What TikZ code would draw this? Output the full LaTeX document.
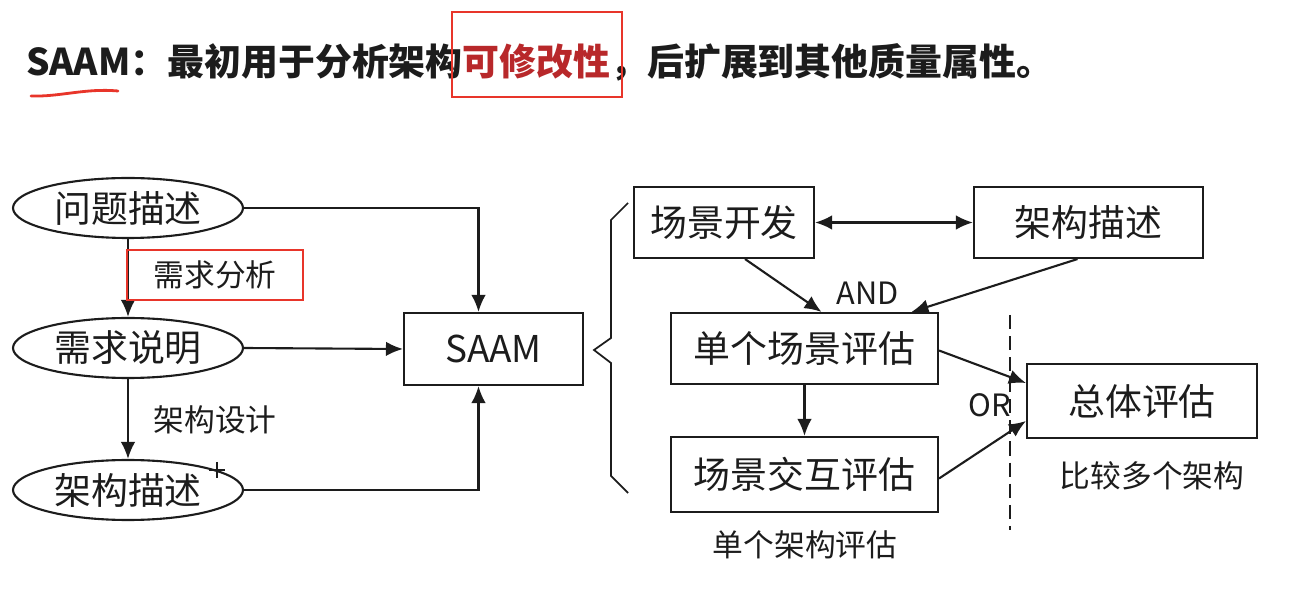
\documentclass[tikz,border=0pt]{standalone}
\usepackage{fontspec}
\setmainfont{Noto Sans CJK SC}
\usetikzlibrary{arrows.meta,shapes.geometric,calc}
\definecolor{ink}{HTML}{1C1C1C}
\definecolor{markred}{HTML}{E8352A}
\definecolor{keyred}{HTML}{B8282A}
\begin{document}
\begin{tikzpicture}[x=0.02cm,y=-0.02cm,
  line width=1.2pt, draw=ink, text=ink,
  big/.style={font=\fontsize{21}{24}\selectfont},
  small/.style={font=\fontsize{17.5}{20}\selectfont},
  ell/.style={draw, ellipse, inner sep=0pt, minimum width=4.6cm, minimum height=1.2cm, big},
  box/.style={draw, rectangle, inner sep=0pt, big},
  arr/.style={-{Latex[length=3.4mm,width=2.9mm]}},
  darr/.style={{Latex[length=3.4mm,width=2.9mm]}-{Latex[length=3.4mm,width=2.9mm]}}]
\useasboundingbox (0,0) rectangle (1300,590);

% heading
\node[anchor=west, inner sep=0pt, font=\fontsize{21}{24}\selectfont\bfseries] (title) at (25,62)
  {SAAM：最初用于分析架构\textcolor{keyred}{可修改性}，后扩展到其他质量属性。};
\node[draw=markred, line width=1.2pt, minimum width=3.4cm, minimum height=1.7cm, inner sep=0pt] (hl) at (537,54.5) {};
\draw[markred, line width=1.6pt, line cap=round] (31,96) .. controls (60,97) and (85,88) .. (118,91);

% left flow
\node[ell] (q) at (128,208) {问题描述};
\node[ell] (r) at (128,348) {需求说明};
\node[ell] (a) at (128,490) {架构描述};
\node[box, minimum width=3.58cm, minimum height=1.44cm] (saam) at (493.5,349) {SAAM};

\draw[arr] (q.south) -- (r.north);
\draw[arr] (r.south) -- (a.north);
\draw[arr] (q.east) -| ($(saam.north)+(-15,0)$);
\draw[arr] (r.east) -- (saam.west);
\draw[arr] (a.east) -| ($(saam.south)+(-15,0)$);

\node[draw=markred, line width=1.2pt, minimum width=3.52cm, minimum height=1cm, inner sep=0pt, small] (req) at (215,275) {需求分析};
\node[small] (des) at (215,420) {架构设计};

% pointer cross
\coordinate (cur) at (217,470);
\draw[line width=0.7pt] ($(cur)+(-8,0)$) -- ($(cur)+(8,0)$) ($(cur)+(0,-8)$) -- ($(cur)+(0,8)$);

% brace
\draw[line width=1pt] (628,203) -- (611,220) -- (611,338) -- (594,350) -- (611,363) -- (611,476) -- (628,493);

% right flow
\node[box, minimum width=3.6cm, minimum height=1.42cm] (dev) at (724,222.5) {场景开发};
\node[box, minimum width=4.58cm, minimum height=1.42cm] (arch) at (1088.5,222.5) {架构描述};
\node[box, minimum width=5.34cm, minimum height=1.42cm] (single) at (804.5,348.5) {单个场景评估};
\node[box, minimum width=5.34cm, minimum height=1.5cm] (inter) at (804.5,474.5) {场景交互评估};
\node[box, minimum width=4.6cm, minimum height=1.48cm] (total) at (1142,401) {总体评估};

\draw[darr] (dev.east) -- (arch.west);
\draw[arr] ($(dev.south)+(21,0)$) -- ($(single.north)+(17,0)$);
\draw[arr] ($(arch.south)+(-11,0)$) -- ($(single.north)+(107,0)$);
\node[small] (and) at (868,293) {AND};
\draw[arr] (single.south) -- (inter.north);
\draw[arr] ($(single.east)+(0,2)$) -- ($(total.west)+(0,-18)$);
\draw[arr] ($(inter.east)+(0,4)$) -- ($(total.west)+(0,20)$);
\node[small] (or) at (990,405) {OR};

\coordinate (dtop) at (1010,315);
\coordinate (dbot) at (1010,530);
\draw[dash pattern=on 8pt off 4pt] (dtop) -- (dbot);

\node[small] (cmp) at (1152,476) {比较多个架构};
\node[small] (one) at (805,545) {单个架构评估};
\end{tikzpicture}
\end{document}
